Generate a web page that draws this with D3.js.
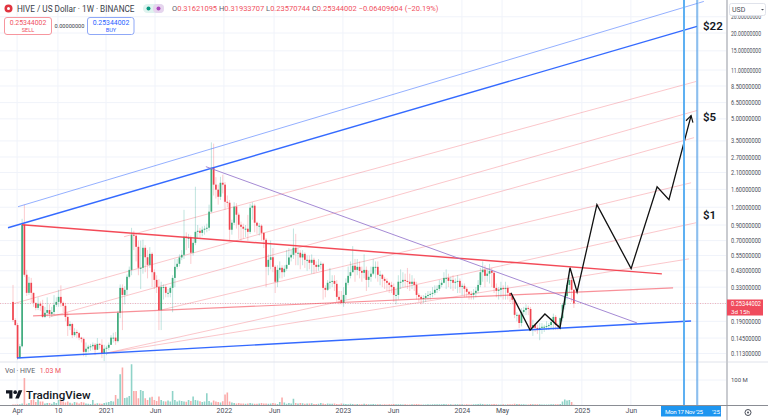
<!DOCTYPE html>
<html>
<head>
<meta charset="utf-8">
<script src="https://d3js.org/d3.v7.min.js"></script>
<style>
  html, body { margin: 0; padding: 0; background: #fff; }
  svg { display: block; font-family: Roboto, "Liberation Sans", sans-serif; }
</style>
</head>
<body>
<div id="chart"></div>
<script>
// weekly bars, index 0 = first bar on the exchange
var firstOpen = 0.26
var closes = [
  .194,.179,.105,.127,.904,.403,.301,.354,.301,.256,
  .236,.252,.244,.204,.218,.228,.214,.221,.248,.260,
  .282,.256,.244,.204,.176,.182,.152,.160,.157,.146,
  .143,.116,.122,.126,.127,.130,.120,.132,.130,.114,
  .122,.124,.130,.146,.146,.138,.218,.326,.291,.316,
  .390,.436,.769,.757,.633,.451,.451,.623,.535,.473,
  .565,.420,.371,.331,.228,.331,.331,.301,.301,.326,
  .383,.458,.481,.533,.556,.745,.733,.733,.575,.675,
  .806,.820,.793,.834,.848,.861,1.117,2.27,1.727,1.593,
  1.42,1.78,1.727,1.31,1.29,.834,.934,1.21,1.063,.904,
  .875,.848,.848,.806,1.19,1.23,.934,.89,.89,.793,
  .709,.458,.513,.535,.458,.36,.436,.451,.42,.444,
  .473,.533,.556,.623,.575,.575,.533,.565,.513,.513,
  .489,.513,.473,.458,.473,.481,.326,.316,.354,.36,
  .365,.348,.282,.269,.256,.291,.354,.396,.42,.466,
  .436,.458,.429,.416,.436,.371,.39,.41,.458,.458,
  .403,.403,.377,.365,.354,.342,.331,.291,.291,.36,
  .36,.371,.365,.36,.348,.36,.342,.291,.282,.273,
  .277,.286,.291,.296,.301,.316,.321,.342,.354,.383,
  .383,.365,.371,.354,.36,.365,.331,.337,.321,.306,
  .296,.291,.301,.311,.342,.42,.436,.396,.41,.429,
  .416,.326,.311,.316,.326,.321,.326,.301,.286,.269,
  .211,.211,.185,.221,.228,.236,.232,.171,.179,.171,
  .165,.171,.174,.174,.176,.179,.188,.204,.179,.176,
  .2,.248,.286,.342,.371,.31621095,.25344002
]
var highs = [
  .342,.2,.185,.132,.995,1.25,.436,.39,.383,.301,
  .256,.28,.262,.269,.24,.28,.25,.24,.29,.28,
  .316,.34,.262,.256,.22,.19,.186,.17,.166,.16,
  .148,.146,.135,.13,.132,.135,.134,.145,.134,.142,
  .13,.128,.135,.152,.158,.16,.225,.345,.345,.335,
  .405,.46,.86,.82,.79,.7,.7,.71,.65,.6,
  .63,.58,.44,.4,.375,.36,.345,.34,.32,.335,
  .4,.52,.52,.56,.6,1.15,.8,.78,.76,.72,
  1.67,.9,.86,.88,.89,.92,1.25,3.42,3.35,1.95,
  1.73,1.96,2.03,1.8,1.45,1.35,.98,1.3,1.28,1.1,
  .95,.92,.9,1.06,1.27,1.3,1.27,.95,.93,.91,
  .8,.73,.56,.7,.62,.47,.47,.5,.47,.47,
  .6,.62,.6,.85,.78,.62,.6,.6,.58,.55,
  .55,.56,.53,.5,.52,.5,.49,.34,.37,.45,
  .4,.4,.37,.31,.31,.33,.38,.46,.5,.64,
  .52,.52,.5,.46,.56,.46,.43,.46,.52,.5,
  .5,.43,.41,.39,.38,.36,.36,.35,.32,.4,
  .44,.42,.41,.45,.41,.4,.38,.36,.3,.29,
  .29,.3,.31,.31,.33,.34,.34,.37,.37,.42,
  .44,.41,.39,.4,.38,.4,.38,.35,.35,.33,
  .31,.31,.32,.33,.37,.45,.5,.47,.44,.48,
  .45,.43,.35,.33,.36,.34,.36,.34,.3,.29,
  .275,.22,.215,.235,.24,.25,.245,.24,.195,.185,
  .18,.185,.185,.18,.19,.185,.2,.215,.21,.185,
  .205,.255,.3,.35,.44,.42,.31933707
]
var lows = [
  .188,.176,.102,.104,.125,.39,.286,.291,.256,.24,
  .227,.228,.225,.2,.2,.205,.2,.205,.21,.24,
  .24,.24,.22,.19,.15,.165,.145,.148,.145,.14,
  .135,.108,.107,.115,.118,.12,.11,.12,.122,.105,
  .1,.11,.119,.13,.135,.13,.135,.2,.165,.25,
  .29,.38,.4,.6,.5,.4,.32,.41,.42,.38,
  .45,.33,.32,.3,.165,.165,.27,.28,.28,.28,
  .22,.33,.44,.46,.51,.52,.6,.62,.48,.55,
  .65,.72,.73,.75,.77,.8,.82,1.1,1.45,1.38,
  1.25,1.35,1.5,1.15,1.2,.7,.77,.9,.85,.72,
  .7,.72,.74,.7,.78,.98,.8,.78,.76,.7,
  .62,.33,.4,.44,.42,.3,.33,.38,.38,.39,
  .43,.48,.5,.52,.47,.47,.44,.47,.45,.43,
  .44,.41,.41,.42,.43,.44,.27,.28,.31,.32,
  .33,.31,.26,.25,.25,.24,.27,.34,.38,.42,
  .36,.4,.38,.36,.38,.31,.33,.36,.4,.38,
  .36,.34,.33,.32,.31,.3,.3,.26,.25,.27,
  .32,.33,.33,.32,.31,.32,.31,.27,.26,.25,
  .255,.26,.27,.27,.28,.29,.3,.31,.33,.35,
  .32,.33,.32,.31,.32,.3,.3,.29,.28,.28,
  .27,.27,.27,.28,.3,.33,.36,.33,.36,.35,
  .33,.3,.28,.27,.28,.27,.27,.27,.26,.25,
  .2,.19,.17,.175,.2,.21,.21,.165,.15,.16,
  .155,.14,.155,.16,.165,.165,.17,.165,.165,.165,
  .165,.19,.23,.27,.3,.26,.23570744
]
// volume in millions
var volumes = [
  2,2,3,3,6,108,5,8,20,22,
  12,22,14,14,6,8,8,5,12,8,
  20,16,14,10,14,9,6,12,10,6,
  12,10,6,5,4,20,5,7,6,5,
  8,10,12,16,14,40,25,123,150,28,
  30,36,163,56,56,27,60,56,27,20,
  30,33,20,16,34,20,15,14,18,14,
  56,20,14,18,16,14,13,20,16,34,
  20,18,15,12,14,47,16,10,18,14,
  12,10,15,42,50,14,10,8,6,8,
  6,6,5,6,8,6,5,5,6,8,
  6,6,5,6,8,6,4,12,30,10,
  5,8,6,25,8,6,8,7,5,6,
  6,7,4,4,5,8,6,4,6,5,
  5,6,4,3,6,5,4,3,5,4,
  3,4,3,3,5,4,3,3,4,3,
  3,3,2,3,2,3,3,4,3,3,
  3,2,3,2,2,3,3,4,3,2,
  2,2,3,2,3,3,3,3,3,4,
  3,3,3,2,3,3,3,3,2,3,
  2,2,3,3,4,5,4,3,3,3,
  3,4,3,2,2,3,2,3,3,3,
  5,4,4,3,3,2,2,4,3,3,
  3,3,2,2,2,2,3,3,3,3,
  4,14,22,18,20,12,1.03
]

var priceTicks = [26,20,15,11,8.5,6.5,5,3.5,2.7,2.1,1.6,1.2,.9,.7,.55,.43,.33,.19,.145,.113]
var timeTicks = [1.8,19.7,40.8,62.3,92.5,114.5,144.7,166.7,196.9,214.5,249.5,271]
var timeLabels = ['Apr','10','2021','Jun','2022','Jun','2023','Jun','2024','May','2025','Jun']

// drawings as [week, price]
var channelTop = [[-2.2,.861],[300,22.26]]
var channelTopThin = [[2.2,1.21],[303,33.3]]
var channelBottom = [[1.75,.105],[297.4,.191]]
var resistance = [[3.95,.904],[284.6,.409]]
var midLine = [[8.8,.2074],[289.5,.326]]
var purpleLine = [[84.6,2.31],[273.7,.185]]
var pinkLines = [
  [[48.7,.745],[299.6,9.14]],
  [[0,.252],[300,5.72]],
  [[16.2,.204],[298.7,3.69]],
  [[64.9,.228],[297.4,1.78]],
  [[41.2,.114],[299.6,.934]],
  [[41.2,.114],[296.5,.521]]
]
var forecast = [[218.4,.301],[226.8,.165],[233.3,.214],[239.9,.171],[244.3,.451],[247.4,.306],
  [256.1,1.25],[271.1,.445],[282.5,1.67],[287.7,1.355],[297.4,5.27]]
var targets = [['$22',22.3],['$5',5.19],['$1',1.06]]
var lastPrice = .25344002
var cursorWeeks = [294.3,300]

var width = 768, height = 420
var svg = d3.select('#chart').append('svg').attr('width',width).attr('height',height)

var x = d3.scaleLinear().domain([0,100]).range([13,241])
var y = d3.scaleLog().domain([.113,20]).range([353.5,33])
var yVol = d3.scaleLinear().domain([0,100]).range([405,380])
var line = d3.line().x(d => x(d[0])).y(d => y(d[1]))

svg.append('defs').append('clipPath').attr('id','pane')
    .append('rect').attr('width',727).attr('height',362)
svg.select('defs').append('marker').attr('id','arrow')
    .attr('viewBox','0 0 10 10').attr('refX',8).attr('refY',5)
    .attr('markerWidth',9).attr('markerHeight',9).attr('markerUnits','userSpaceOnUse')
    .attr('orient','auto')
    .append('path').attr('d','M1 1L8 5L1 9').attr('fill','none').attr('stroke','#111').attr('stroke-width',1.3)

// grid
var grid = svg.append('g').attr('stroke','#f0f3fa').attr('stroke-width',1)
grid.selectAll('.gx').data(timeTicks).join('line').attr('class','gx')
    .attr('x1',d => x(d)).attr('x2',d => x(d)).attr('y1',0).attr('y2',405)
grid.selectAll('.gy').data(priceTicks.concat([lastPrice])).join('line').attr('class','gy')
    .attr('x1',0).attr('x2',727).attr('y1',d => y(d)).attr('y2',d => y(d))
svg.append('line').attr('x1',0).attr('x2',727).attr('y1',362).attr('y2',362).attr('stroke','#e0e3eb')
svg.append('line').attr('x1',0).attr('x2',727).attr('y1',yVol(100)).attr('y2',yVol(100)).attr('stroke','#f0f3fa')

var bars = closes.map((c,i) => ({
  i: i, o: i ? closes[i-1] : firstOpen, c: c, h: highs[i], l: lows[i], v: volumes[i]
}))
var isUp = d => d.c >= d.o

// volume
svg.append('g').selectAll('rect').data(bars).join('rect')
    .attr('x',d => x(d.i)-.8).attr('width',1.6)
    .attr('y',d => yVol(d.v)).attr('height',d => yVol(0)-yVol(d.v))
    .attr('fill',d => isUp(d) ? '#8fd3c8' : '#fbaaa9')

var pane = svg.append('g').attr('clip-path','url(#pane)')

// current price line
pane.append('line').attr('x1',0).attr('x2',727).attr('y1',y(lastPrice)).attr('y2',y(lastPrice))
    .attr('stroke','#f23645').attr('stroke-opacity',.35).attr('stroke-dasharray','1 1.5')

pane.selectAll('.pink').data(pinkLines).join('path').attr('class','pink')
    .attr('d',line).attr('fill','none').attr('stroke','#f23645').attr('stroke-opacity',.28).attr('stroke-width',1)

// wicks then bodies
pane.append('g').selectAll('line').data(bars).join('line')
    .attr('x1',d => x(d.i)).attr('x2',d => x(d.i))
    .attr('y1',d => y(d.h)).attr('y2',d => y(d.l))
    .attr('stroke',d => isUp(d) ? '#089981' : '#f23645').attr('stroke-opacity',.25).attr('stroke-width',1)
pane.append('g').selectAll('rect').data(bars).join('rect')
    .attr('x',d => x(d.i)-.85).attr('width',1.7)
    .attr('y',d => y(Math.max(d.o,d.c)))
    .attr('height',d => Math.max(1,Math.abs(y(d.o)-y(d.c))))
    .attr('fill',d => isUp(d) ? '#3fab7c' : '#f0444f')

function drawLine(data,color,w,op) {
  return pane.append('path').datum(data).attr('d',line).attr('fill','none')
      .attr('stroke',color).attr('stroke-width',w).attr('stroke-opacity',op)
}
drawLine(channelTopThin,'#2962ff',1,.5)
drawLine(channelTop,'#2962ff',1.4,.95)
drawLine(channelBottom,'#2962ff',1.4,.95)
drawLine(resistance,'#f23645',1.4,.9)
drawLine(midLine,'#f23645',1.2,.55)
drawLine(purpleLine,'#9575cd',1,.85)
drawLine(forecast,'#111',1.3,1).attr('marker-end','url(#arrow)').attr('stroke-linejoin','miter')

// the two vertical cursors
svg.append('line').attr('x1',x(cursorWeeks[0])).attr('x2',x(cursorWeeks[0])).attr('y1',0).attr('y2',405)
    .attr('stroke','#5eb0f2').attr('stroke-width',2)
svg.append('line').attr('x1',x(cursorWeeks[1])+1).attr('x2',x(cursorWeeks[1])+1).attr('y1',0).attr('y2',405)
    .attr('stroke','#bbdefb').attr('stroke-width',1)
svg.append('line').attr('x1',x(cursorWeeks[1])).attr('x2',x(cursorWeeks[1])).attr('y1',0).attr('y2',405)
    .attr('stroke','#3d8fe0').attr('stroke-width',1)

svg.selectAll('.target').data(targets).join('text').attr('class','target')
    .attr('x',703).attr('y',d => y(d[1])+4).text(d => d[0])
    .attr('font-size',11.5).attr('font-weight',600).attr('fill','#131722')

// right axis
svg.append('rect').attr('x',727).attr('y',0).attr('width',41).attr('height',405).attr('fill','#fff')
var yAxis = svg.append('g').attr('transform','translate(727,0)')
    .call(d3.axisRight(y).tickValues(priceTicks).tickFormat(d => d.toFixed(8)).tickSize(0).tickPadding(4))
yAxis.select('.domain').remove()
yAxis.selectAll('text').attr('font-size',6.4).attr('fill','#4a4e59').attr('font-family','Roboto')
    .attr('textLength',30).attr('lengthAdjust','spacingAndGlyphs')
var volAxis = svg.append('g').attr('transform','translate(727,0)')
    .call(d3.axisRight(yVol).tickValues([100]).tickFormat(d => d+' M').tickSize(0).tickPadding(4))
volAxis.select('.domain').remove()
volAxis.selectAll('text').attr('font-size',6).attr('fill','#4a4e59').attr('font-family','Roboto')
svg.append('rect').attr('x',726).attr('y',0).attr('width',2).attr('height',420).attr('fill','#c9cbd0')
svg.append('line').attr('x1',0).attr('x2',768).attr('y1',405.5).attr('y2',405.5).attr('stroke','#8a8d94')
svg.append('line').attr('x1',728).attr('x2',768).attr('y1',362).attr('y2',362).attr('stroke','#e0e3eb')

// bottom axis
svg.append('rect').attr('x',0).attr('y',406).attr('width',726).attr('height',14).attr('fill','#fff')
var xAxis = svg.append('g').attr('transform','translate(0,405)')
    .call(d3.axisBottom(x).tickValues(timeTicks).tickFormat((d,i) => timeLabels[i]).tickSize(0).tickPadding(3))
xAxis.select('.domain').remove()
xAxis.selectAll('text').attr('font-size',7).attr('fill','#4a4e59').attr('font-family','Roboto')

svg.append('rect').attr('x',661).attr('y',406).attr('width',60).attr('height',10.5).attr('fill','#1e96f0')
svg.append('text').attr('x',665).attr('y',414).attr('font-size',6.2).attr('fill','#fff').attr('textLength',38).text("Mon 17 Nov '25")
svg.append('text').attr('x',712).attr('y',414).attr('font-size',6.2).attr('fill','#fff').text("'25")

// last price label
svg.append('rect').attr('x',727).attr('y',299.5).attr('width',36).attr('height',16).attr('fill','#f04b5d')
svg.append('text').attr('x',731).attr('y',306).attr('font-size',6.4).attr('fill','#fff')
    .attr('textLength',30).attr('lengthAdjust','spacingAndGlyphs').text(lastPrice.toFixed(8))
svg.append('text').attr('x',731).attr('y',313.5).attr('font-size',6.2).attr('fill','#fff').text('3d 15h')

// USD box and settings
svg.append('rect').attr('x',729.5).attr('y',3.5).attr('width',36).attr('height',12).attr('rx',2)
    .attr('fill','#fff').attr('stroke','#e0e3eb')
svg.append('text').attr('x',732).attr('y',12).attr('font-size',7).attr('fill','#4a4e59').text('USD')
svg.append('path').attr('d','M761 9h3l-1.5 1.5z').attr('fill','#4a4e59')
svg.append('circle').attr('cx',748).attr('cy',412.5).attr('r',3).attr('fill','none').attr('stroke','#4a4e59')
svg.append('circle').attr('cx',748).attr('cy',412.5).attr('r',1).attr('fill','#4a4e59')

// header
svg.append('circle').attr('cx',8.5).attr('cy',8.5).attr('r',4).attr('fill','#e0343f')
svg.append('circle').attr('cx',8.5).attr('cy',8.5).attr('r',1.5).attr('fill','#fff')
svg.append('text').attr('x',17).attr('y',11.5).attr('font-size',8.2).attr('fill','#3a3e49')
    .text('HIVE / US Dollar · 1W · BINANCE')
svg.append('rect').attr('x',143).attr('y',4).attr('width',21).attr('height',9).attr('rx',4.5).attr('fill','#dff3ef')
svg.append('rect').attr('x',153).attr('y',4).attr('width',11).attr('height',9).attr('rx',4).attr('fill','#e6d5ee')
svg.append('circle').attr('cx',148.5).attr('cy',8.5).attr('r',2).attr('fill','#089981')
svg.append('circle').attr('cx',158.5).attr('cy',8.5).attr('r',2).attr('fill','#ab47bc')

var ohlc = svg.append('text').attr('x',172).attr('y',11).attr('font-size',7.5).attr('fill','#f0525f')
;[['O','0.31621095'],['H','0.31933707'],['L','0.23570744'],['C','0.25344002']].forEach(function (p) {
  ohlc.append('tspan').attr('fill','#5d606b').text(p[0])
  ohlc.append('tspan').text(p[1]+' ')
})
ohlc.append('tspan').text('−0.06409604 (−20.19%)')

svg.append('rect').attr('x',4.5).attr('y',17.5).attr('width',47).attr('height',17).attr('rx',2.5)
    .attr('fill','#fff').attr('stroke','#f7969e')
svg.append('text').attr('x',28).attr('y',25).attr('text-anchor','middle').attr('font-size',6.9).attr('fill','#f0525f').text('0.25344002')
svg.append('text').attr('x',28).attr('y',32).attr('text-anchor','middle').attr('font-size',5.6).attr('fill','#f0525f').text('SELL')
svg.append('text').attr('x',69.5).attr('y',28).attr('text-anchor','middle').attr('font-size',5.6).attr('fill','#3a3e49').text('0.00000000')
svg.append('rect').attr('x',87.5).attr('y',17.5).attr('width',46.5).attr('height',17).attr('rx',2.5)
    .attr('fill','#fff').attr('stroke','#8fa8f7')
svg.append('text').attr('x',111).attr('y',25).attr('text-anchor','middle').attr('font-size',6.9).attr('fill','#2962ff').text('0.25344002')
svg.append('text').attr('x',111).attr('y',32).attr('text-anchor','middle').attr('font-size',5.6).attr('fill','#2962ff').text('BUY')

// volume legend and logo
var volLabel = svg.append('text').attr('x',5).attr('y',373).attr('font-size',6.9).attr('fill','#5d606b')
volLabel.append('tspan').text('Vol · HIVE ')
volLabel.append('tspan').attr('dx',3).attr('fill','#f0525f').text('1.03 M')

var logo = svg.append('g').attr('transform','translate(6,388.5) scale(.46)').attr('fill','#131722')
logo.append('path').attr('d','M14 22H7V11H0V4h14v18zM28 22h-8l7.5-18h8L28 22z')
logo.append('circle').attr('cx',20).attr('cy',8).attr('r',4)
svg.append('text').attr('x',26).attr('y',398.5).attr('font-size',11.6).attr('font-weight',500)
    .attr('fill','#131722').text('TradingView')
</script>
</body>
</html>
